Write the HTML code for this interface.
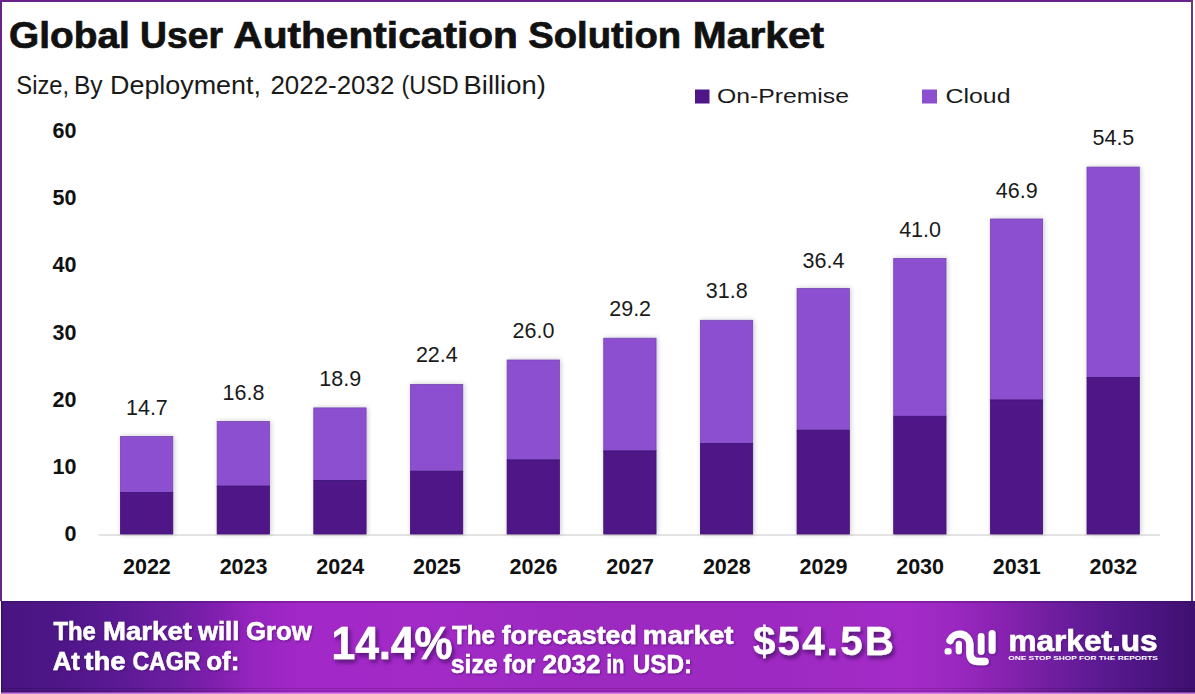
<!DOCTYPE html>
<html>
<head>
<meta charset="utf-8">
<style>
html,body{margin:0;padding:0;background:#fff;}
body{width:1195px;height:694px;overflow:hidden;position:relative;}
svg{display:block;position:absolute;left:0;top:0;}
text{font-family:"Liberation Sans",Arial,sans-serif;}
</style>
</head>
<body>
<svg width="1195" height="694" viewBox="0 0 1195 694">
<defs>
  <linearGradient id="fg" x1="0" y1="0" x2="1" y2="0">
    <stop offset="0" stop-color="#481580"/>
    <stop offset="0.05" stop-color="#4e1688"/>
    <stop offset="0.1" stop-color="#5c1a95"/>
    <stop offset="0.15" stop-color="#6f1ea3"/>
    <stop offset="0.18" stop-color="#801fae"/>
    <stop offset="0.21" stop-color="#9624bf"/>
    <stop offset="0.25" stop-color="#a228c7"/>
    <stop offset="0.35" stop-color="#a32ac7"/>
    <stop offset="0.5" stop-color="#9c29c0"/>
    <stop offset="0.65" stop-color="#9e29c2"/>
    <stop offset="0.76" stop-color="#a42bc8"/>
    <stop offset="0.8" stop-color="#9a28c0"/>
    <stop offset="0.84" stop-color="#8722b0"/>
    <stop offset="0.88" stop-color="#701ea0"/>
    <stop offset="0.92" stop-color="#5c1992"/>
    <stop offset="0.96" stop-color="#4c1582"/>
    <stop offset="1" stop-color="#3e1070"/>
  </linearGradient>
  <filter id="bs" x="-10%" y="-5%" width="130%" height="110%">
    <feDropShadow dx="1" dy="0" stdDeviation="2.6" flood-color="#000" flood-opacity="0.22"/>
  </filter>
  <filter id="ds" x="-10%" y="-20%" width="130%" height="150%">
    <feDropShadow dx="2" dy="3" stdDeviation="2" flood-color="#3a0a5a" flood-opacity="0.8"/>
  </filter>
  <filter id="ds2" x="-10%" y="-20%" width="130%" height="150%">
    <feDropShadow dx="1" dy="1" stdDeviation="1" flood-color="#3a0a5a" flood-opacity="0.6"/>
  </filter>
</defs>

<!-- frame -->
<rect x="0" y="0" width="1193" height="2" fill="#6a2188"/>
<rect x="0" y="0" width="2" height="601" fill="#6a2188"/>
<rect x="1191" y="0" width="2" height="601" fill="#6a3a80"/>

<!-- title -->
<g font-size="36" font-weight="bold" fill="#111" stroke="#111" stroke-width="0.7" lengthAdjust="spacingAndGlyphs">
  <text x="9.0" y="47.8" textLength="120.8" lengthAdjust="spacingAndGlyphs">Global</text>
  <text x="140.0" y="47.8" textLength="82.9" lengthAdjust="spacingAndGlyphs">User</text>
  <text x="233.3" y="47.8" textLength="284.6" lengthAdjust="spacingAndGlyphs">Authentication</text>
  <text x="528.2" y="47.8" textLength="153" lengthAdjust="spacingAndGlyphs">Solution</text>
  <text x="692.8" y="47.8" textLength="131.4" lengthAdjust="spacingAndGlyphs">Market</text>
</g>
<g font-size="25" fill="#1a1a1a">
  <text x="16.3" y="94.2" textLength="52.9" lengthAdjust="spacingAndGlyphs">Size,</text>
  <text x="73.9" y="94.2" textLength="28.7" lengthAdjust="spacingAndGlyphs">By</text>
  <text x="110" y="94.2" textLength="151" lengthAdjust="spacingAndGlyphs">Deployment,</text>
  <text x="270.4" y="94.2" textLength="124.0" lengthAdjust="spacingAndGlyphs">2022-2032</text>
  <text x="401.5" y="94.2" textLength="57.3" lengthAdjust="spacingAndGlyphs">(USD</text>
  <text x="463.5" y="94.2" textLength="82.3" lengthAdjust="spacingAndGlyphs">Billion)</text>
</g>

<!-- legend -->
<rect x="695" y="89.5" width="14.5" height="14" fill="#4f1687"/>
<text x="717" y="103" font-size="21" fill="#1a1a1a" textLength="132" lengthAdjust="spacingAndGlyphs">On-Premise</text>
<rect x="922" y="89.5" width="15" height="14" fill="#8b4fd0"/>
<text x="945.5" y="103" font-size="21" fill="#1a1a1a" textLength="65" lengthAdjust="spacingAndGlyphs">Cloud</text>

<!-- y axis labels -->
<g font-size="21.5" font-weight="bold" fill="#111" text-anchor="end">
  <text x="76.5" y="137.6">60</text>
  <text x="76.5" y="204.9">50</text>
  <text x="76.5" y="272.2">40</text>
  <text x="76.5" y="339.5">30</text>
  <text x="76.5" y="406.8">20</text>
  <text x="76.5" y="474.1">10</text>
  <text x="76.5" y="541.4">0</text>
</g>

<!-- axis line -->
<rect x="98.5" y="534.5" width="1061.5" height="1" fill="#c8c8c8"/>

<!-- bars -->

<g filter="url(#bs)">
<g fill="#8b4fd0" stroke="#7446b0" stroke-width="0.8">
  <rect x="120.50" y="436.4" width="52.3" height="56.0"/>
  <rect x="217.15" y="421.4" width="52.3" height="64.7"/>
  <rect x="313.80" y="407.9" width="52.3" height="72.5"/>
  <rect x="410.45" y="384.4" width="52.3" height="86.8"/>
  <rect x="507.10" y="360.0" width="52.3" height="99.9"/>
  <rect x="603.75" y="338.2" width="52.3" height="112.7"/>
  <rect x="700.40" y="320.3" width="52.3" height="123.3"/>
  <rect x="797.05" y="288.5" width="52.3" height="141.7"/>
  <rect x="893.70" y="258.4" width="52.3" height="157.9"/>
  <rect x="990.35" y="219.0" width="52.3" height="181.0"/>
  <rect x="1087.00" y="167.1" width="52.3" height="210.3"/>
</g>
<g fill="#4f1687" stroke="#3f1075" stroke-width="0.8">
  <rect x="120.50" y="492.4" width="52.3" height="41.6"/>
  <rect x="217.15" y="486.1" width="52.3" height="47.9"/>
  <rect x="313.80" y="480.4" width="52.3" height="53.6"/>
  <rect x="410.45" y="471.2" width="52.3" height="62.8"/>
  <rect x="507.10" y="459.9" width="52.3" height="74.1"/>
  <rect x="603.75" y="450.9" width="52.3" height="83.1"/>
  <rect x="700.40" y="443.6" width="52.3" height="90.4"/>
  <rect x="797.05" y="430.2" width="52.3" height="103.8"/>
  <rect x="893.70" y="416.3" width="52.3" height="117.7"/>
  <rect x="990.35" y="400.0" width="52.3" height="134.0"/>
  <rect x="1087.00" y="377.4" width="52.3" height="156.6"/>
</g>
</g>

<!-- value labels -->
<g font-size="21.5" fill="#1a1a1a" text-anchor="middle">
  <text x="146.90" y="414.6">14.7</text>
  <text x="243.55" y="399.5">16.8</text>
  <text x="340.20" y="386">18.9</text>
  <text x="436.85" y="362.3">22.4</text>
  <text x="533.50" y="338">26.0</text>
  <text x="630.15" y="316.4">29.2</text>
  <text x="726.80" y="298.4">31.8</text>
  <text x="823.45" y="268.2">36.4</text>
  <text x="920.10" y="236.5">41.0</text>
  <text x="1016.75" y="197.6">46.9</text>
  <text x="1113.40" y="145.1">54.5</text>
</g>

<!-- x labels -->
<g font-size="21.5" font-weight="bold" fill="#111" text-anchor="middle">
  <text x="146.90" y="574.4">2022</text>
  <text x="243.55" y="574.4">2023</text>
  <text x="340.20" y="574.4">2024</text>
  <text x="436.85" y="574.4">2025</text>
  <text x="533.50" y="574.4">2026</text>
  <text x="630.15" y="574.4">2027</text>
  <text x="726.80" y="574.4">2028</text>
  <text x="823.45" y="574.4">2029</text>
  <text x="920.10" y="574.4">2030</text>
  <text x="1016.75" y="574.4">2031</text>
  <text x="1113.40" y="574.4">2032</text>
</g>

<!-- footer -->
<rect x="1" y="601" width="1194" height="93" fill="url(#fg)"/>
<rect x="1" y="601" width="1194" height="2" fill="#3a0a5a" opacity="0.3"/>
<rect x="1" y="601" width="1.2" height="93" fill="#2a0a50" opacity="0.6"/>
<rect x="1" y="688" width="1194" height="1" fill="#000" opacity="0.15"/>
<rect x="1" y="690.5" width="1194" height="1.5" fill="#000" opacity="0.15"/>
<rect x="1" y="692.5" width="1194" height="1.5" fill="#e090f0" opacity="0.8"/>

<g fill="#fff" stroke="#fff" stroke-width="0.5" font-weight="bold" font-size="25" filter="url(#ds2)">
  <text x="53.4" y="639.8" textLength="42.4" lengthAdjust="spacingAndGlyphs">The</text>
  <text x="103.1" y="639.8" textLength="88.8" lengthAdjust="spacingAndGlyphs">Market</text>
  <text x="198.0" y="639.8" textLength="41.3" lengthAdjust="spacingAndGlyphs">will</text>
  <text x="246.0" y="639.8" textLength="65.9" lengthAdjust="spacingAndGlyphs">Grow</text>
  <text x="52.7" y="670.1" textLength="27.2" lengthAdjust="spacingAndGlyphs">At</text>
  <text x="84.3" y="670.1" textLength="41.3" lengthAdjust="spacingAndGlyphs">the</text>
  <text x="132.4" y="670.1" textLength="68.2" lengthAdjust="spacingAndGlyphs">CAGR</text>
  <text x="206.2" y="670.1" textLength="33.1" lengthAdjust="spacingAndGlyphs">of:</text>
  <text x="452.0" y="643.9" textLength="43.0" lengthAdjust="spacingAndGlyphs">The</text>
  <text x="501.7" y="643.9" textLength="135.1" lengthAdjust="spacingAndGlyphs">forecasted</text>
  <text x="642.8" y="643.9" textLength="90.7" lengthAdjust="spacingAndGlyphs">market</text>
  <text x="450.8" y="672.9" textLength="46.7" lengthAdjust="spacingAndGlyphs">size</text>
  <text x="503.5" y="672.9" textLength="31.7" lengthAdjust="spacingAndGlyphs">for</text>
  <text x="542.4" y="672.9" textLength="58.1" lengthAdjust="spacingAndGlyphs">2032</text>
  <text x="606.4" y="672.9" textLength="17.9" lengthAdjust="spacingAndGlyphs">in</text>
  <text x="632.8" y="672.9" textLength="59.3" lengthAdjust="spacingAndGlyphs">USD:</text>
</g>
<g fill="#fff" filter="url(#ds)">
  <text x="331.5" y="659" font-size="47" font-weight="bold" stroke="#fff" stroke-width="0.6" textLength="121" lengthAdjust="spacingAndGlyphs">14.4%</text>
  <text x="753" y="654.5" font-size="40.5" font-weight="bold" stroke="#fff" stroke-width="0.3" textLength="141" lengthAdjust="spacing">$54.5B</text>
</g>

<!-- logo -->
<g fill="none" stroke="#fff" stroke-linecap="round" filter="url(#ds2)">
  <path d="M950.1 640.5 A10.3 10.3 0 0 1 969.9 644 L969.9 653 Q969.9 661.5 978.5 661.5 L985 661.5" stroke-width="7.5"/>
  <line x1="958.85" y1="643.8" x2="958.85" y2="651.2" stroke-width="6.2"/>
  <line x1="981.15" y1="636.3" x2="981.15" y2="651.6" stroke-width="6.7"/>
  <line x1="992.1" y1="633.5" x2="992.1" y2="650.6" stroke-width="7"/>
</g>
<rect x="944.6" y="648.2" width="7" height="6.2" rx="2" fill="#fff"/>
<text x="1008.5" y="650.6" font-size="29" font-weight="bold" fill="#fff" stroke="#fff" stroke-width="0.6" textLength="149" lengthAdjust="spacingAndGlyphs" filter="url(#ds2)">market.us</text>
<text x="1008.3" y="660.3" font-size="5.6" font-weight="bold" fill="#fff" textLength="149.6" lengthAdjust="spacingAndGlyphs">ONE STOP SHOP FOR THE REPORTS</text>
</svg>
</body>
</html>
